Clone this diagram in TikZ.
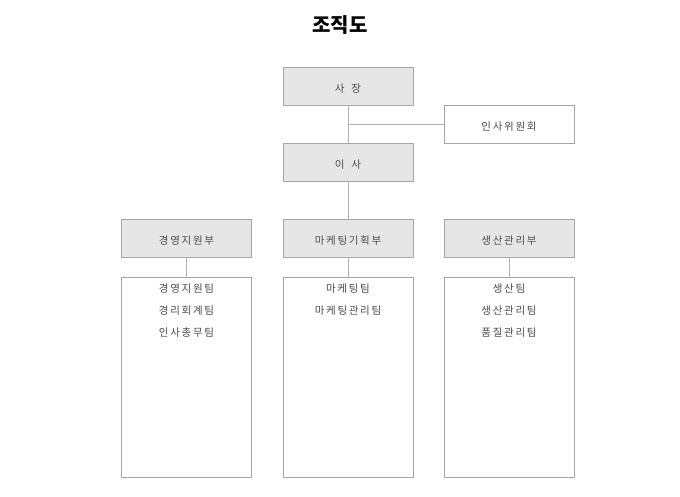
\documentclass[tikz,border=0pt]{standalone}
\usepackage{fontspec}
\setmainfont{Noto Sans CJK KR}
\newfontfamily\boxfont[LetterSpace=16]{Noto Sans CJK KR}
\usepackage{tikz}
\usetikzlibrary{positioning}
\definecolor{boxline}{HTML}{A6A6A6}
\definecolor{boxfill}{HTML}{E6E6E6}
\definecolor{linkline}{HTML}{B3B3B3}
\tikzset{
x=1pt, y=-1pt, % one unit is one pixel of the reference, y going down
every node/.style={font=\boxfont\fontsize{10.5}{22}\selectfont, text=black!70},
headbox/.style={draw=boxline, fill=boxfill, minimum width=130pt, minimum height=38pt, inner sep=0pt, text height=13pt, text depth=0pt}, % grey boxes
plainbox/.style={draw=boxline, fill=white, minimum width=130pt, minimum height=38pt, inner sep=0pt, text height=13pt, text depth=0pt}, % white boxes
teambox/.style={draw=boxline, fill=white, minimum width=130pt, minimum height=200pt, inner sep=0pt}, % tall team boxes
teamtext/.style={anchor=north, align=center, inner sep=0pt}, % list of teams
link/.style={draw=linkline, line width=0.8pt}, % connectors
}

\begin{document}
\begin{tikzpicture}
    \useasboundingbox (0,0) rectangle (680,497);

    \node[font=\rmfamily\fontsize{20}{24}\selectfont\bfseries, text=black] (title) at (340,25) {조직도};

    \node[headbox] (ceo) at (348,86) {사\hspace{7pt}장};
    \node[plainbox] (committee) at (509,124.5) {인사위원회};
    \node[headbox] (director) at (348,162.5) {이\hspace{7pt}사};

    %departments
    \node[headbox] (mgmt) at (186.5,238) {경영지원부};
    \node[headbox] (mkt) at (348,238) {마케팅기획부};
    \node[headbox] (prod) at (509,238) {생산관리부};

    %teams
    \node[teambox] (mgmtteam) at (186.5,377) {};
    \node[teambox] (mktteam) at (348,377) {};
    \node[teambox] (prodteam) at (509,377) {};
    \node[teamtext, below=6.5pt of mgmtteam.north] (mgmtlist) {경영지원팀\\경리회계팀\\인사총무팀};
    \node[teamtext, below=6.5pt of mktteam.north] (mktlist) {마케팅팀\\마케팅관리팀};
    \node[teamtext, below=6.5pt of prodteam.north] (prodlist) {생산팀\\생산관리팀\\품질관리팀};

    \path[link] (ceo) -- (director);
    \path[link] (ceo.south |- committee.west) -- (committee.west);
    \path[link] (director) -- (mkt);
    \path[link] (mgmt) -- (mgmtteam);
    \path[link] (mkt) -- (mktteam);
    \path[link] (prod) -- (prodteam);

\end{tikzpicture}
\end{document}
